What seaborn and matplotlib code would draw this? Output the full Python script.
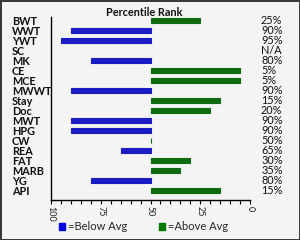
import numpy as np
import pandas as pd
import matplotlib
matplotlib.use("Agg")
import matplotlib.pyplot as plt
import matplotlib.transforms as mtransforms
from matplotlib.patches import Rectangle
from matplotlib.ticker import FixedLocator, FuncFormatter
import seaborn as sns

traits = ["BWT", "WWT", "YWT", "SC", "MK", "CE", "MCE", "MWWT", "Stay", "Doc",
          "MWT", "HPG", "CW", "REA", "FAT", "MARB", "YG", "API"]
percentile = [25, 90, 95, np.nan, 80, 5, 5, 90, 15, 20,
              90, 90, 50, 65, 30, 35, 80, 15]
rank_labels = ["25%", "90%", "95%", "N/A", "80%", "5%", "5%", "90%", "15%", "20%",
               "90%", "90%", "50%", "65%", "30%", "35%", "80%", "15%"]
major_ticks = [100, 75, 50, 25, 0]
legend_labels = ["=Below Avg", "=Above Avg"]

BLUE = "#0000e0"
GREEN = "#007a00"
BG = "#f4f4f4"

sns.set_theme(style="white")
plt.rcParams["font.family"] = ["Lato", "DejaVu Sans"]

df = pd.DataFrame({"trait": traits, "pct": percentile})
df["dev"] = df["pct"] - 50
df["group"] = np.where(df["pct"] > 50, legend_labels[0], legend_labels[1])

fig = plt.figure(figsize=(3.0, 2.4), dpi=100)
fig.patch.set_facecolor(BG)
fig.patch.set_edgecolor("#3a3a3a")
fig.patch.set_linewidth(2)
ax = fig.add_axes([51 / 300, 40 / 240, 199 / 300, 183 / 240])
ax.set_facecolor(BG)

sns.barplot(data=df, x="dev", y="trait", hue="group", order=traits,
            hue_order=legend_labels, palette=[BLUE, GREEN], dodge=False,
            width=0.45, orient="h", legend=False, ax=ax, linewidth=0.8)
for p in ax.patches:
    p.set_edgecolor(p.get_facecolor())

ax.set_xlim(50, -50)
ax.set_ylim(17.95, -0.35)
ax.set_xlabel("")
ax.set_ylabel("")

# x ticks: deviation from 50 shown as percentile
ax.xaxis.set_major_locator(FixedLocator([t - 50 for t in major_ticks]))
ax.xaxis.set_minor_locator(FixedLocator(list(np.arange(-50, 51, 5))))
ax.xaxis.set_major_formatter(FuncFormatter(lambda v, pos: f"{int(round(v + 50))}"))
ax.tick_params(axis="x", which="both", direction="out", length=3, width=0.8,
               color="#000000", bottom=True, pad=1.5)
ax.tick_params(axis="x", which="major", labelsize=6.5, labelrotation=-90,
               labelcolor="#222222")

# y labels: bold, left aligned
ax.tick_params(axis="y", length=0, pad=28, labelsize=7.8)
for lab in ax.get_yticklabels():
    lab.set_horizontalalignment("left")
    lab.set_fontweight("bold")
    lab.set_color("#111111")

for s in ["top", "right"]:
    ax.spines[s].set_visible(False)
for s in ["left", "bottom"]:
    ax.spines[s].set_color("#000000")
    ax.spines[s].set_linewidth(1.0)

# percentile text column
trans = mtransforms.blended_transform_factory(fig.transFigure, ax.transData)
for i, txt in enumerate(rank_labels):
    ax.text(261 / 300, i, txt, transform=trans, ha="left", va="center",
            fontsize=7.8, color="#111111", clip_on=False)

fig.text(144 / 300, 1 - 12 / 240, "Percentile Rank", ha="center", va="center",
         fontsize=7.8, fontweight="bold", color="#111111")

handles = [Rectangle((0, 0), 1, 1, color=BLUE), Rectangle((0, 0), 1, 1, color=GREEN)]
fig.legend(handles, legend_labels, loc="center left", bbox_to_anchor=(59 / 300, 1 - 227 / 240),
           ncol=2, frameon=False, fontsize=8, handlelength=0.55, handleheight=0.55,
           handletextpad=0.25, columnspacing=2.9, borderpad=0, borderaxespad=0)

fig.savefig("out.png", dpi=100, facecolor=fig.get_facecolor(), edgecolor=fig.get_edgecolor())
